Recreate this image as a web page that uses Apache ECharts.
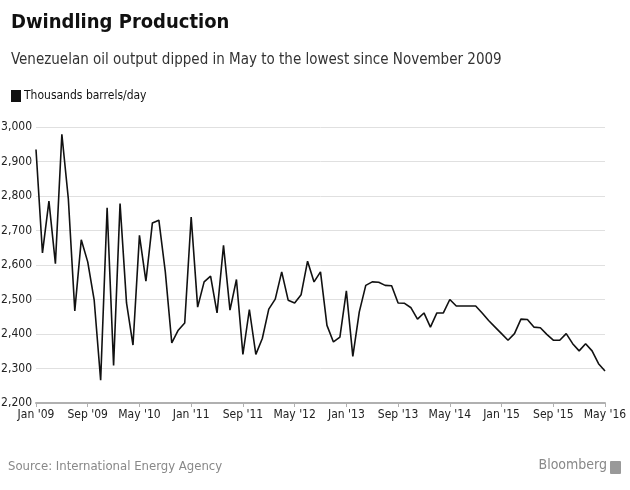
<!DOCTYPE html>
<html>
<head>
<meta charset="utf-8">
<script src="https://cdn.jsdelivr.net/npm/echarts@6/dist/echarts.min.js"></script>
<style>
html,body{margin:0;padding:0;background:#fff;}
#c{width:630px;height:490px;}
</style>
</head>
<body>
<div id="c"></div>
<script>
var monthNames = ['Jan','Feb','Mar','Apr','May','Jun','Jul','Aug','Sep','Oct','Nov','Dec'];
var startYear = 2009, monthCount = 89;
var categories = [];
for (var i = 0; i < monthCount; i++) {
  var y = startYear + Math.floor(i / 12);
  categories.push(monthNames[i % 12] + " '" + String(y).slice(2));
}
var output = [
  2935, 2635, 2785, 2604, 2979, 2792, 2467, 2673, 2609, 2498, 2266, 2766,
  2309, 2778, 2490, 2368, 2686, 2553, 2722, 2730, 2580, 2374, 2411, 2432,
  2739, 2478, 2551, 2568, 2461, 2657, 2469, 2558, 2341, 2471, 2341, 2387,
  2472, 2501, 2580, 2498, 2490, 2514, 2611, 2551, 2580, 2425, 2377, 2391,
  2525, 2335, 2464, 2541, 2551, 2550, 2541, 2540, 2490, 2489, 2476, 2443,
  2461, 2420, 2461, 2461, 2500, 2481, 2481, 2481, 2481, 2461, 2439, 2420,
  2401, 2382, 2401, 2443, 2442, 2420, 2418, 2399, 2382, 2382, 2401, 2372,
  2351, 2372, 2351, 2314, 2293
];
var yTicks = [2200, 2300, 2400, 2500, 2600, 2700, 2800, 2900, 3000];

var FONT = '"DejaVu Sans Condensed", "DejaVu Sans", sans-serif';
var chart = echarts.init(document.getElementById('c'), null, {renderer: 'canvas'});
chart.setOption({
  backgroundColor: '#ffffff',
  animation: false,
  title: [
    {text: 'Dwindling Production', left: 6, top: 8,
     textStyle: {fontFamily: FONT, fontWeight: 'bold', fontSize: 20, color: '#111'}},
    {text: 'Venezuelan oil output dipped in May to the lowest since November 2009', left: 6, top: 48,
     textStyle: {fontFamily: FONT, fontWeight: 'normal', fontSize: 15, color: '#333'}}
  ],
  legend: {
    left: 6, top: 85, itemWidth: 10, itemHeight: 12, itemGap: 4,
    icon: 'rect',
    data: ['Thousands barrels/day'],
    textStyle: {fontFamily: FONT, fontSize: 12, color: '#111', padding: [0,0,0,-2]}
  },
  grid: {left: 36, right: 25, top: 127, bottom: 87, containLabel: false, outerBoundsMode: 'none'},
  xAxis: {
    type: 'category',
    data: categories,
    boundaryGap: false,
    axisLine: {lineStyle: {color: '#b0b0b0', width: 2}},
    axisTick: {show: true, interval: 7, length: 4, lineStyle: {color: '#b0b0b0'}},
    axisLabel: {interval: 7, fontFamily: FONT, fontSize: 12, color: '#222', margin: 6, showMaxLabel: true},
    splitLine: {show: false}
  },
  yAxis: {
    type: 'value',
    min: yTicks[0], max: yTicks[yTicks.length - 1], interval: 100,
    axisLine: {show: false},
    axisTick: {show: false},
    axisLabel: {fontFamily: FONT, fontSize: 12, color: '#222', margin: 4,
      formatter: function (v) { return v.toLocaleString('en-US'); }},
    splitLine: {lineStyle: {color: '#e0e0e0', width: 1}}
  },
  series: [{
    name: 'Thousands barrels/day',
    type: 'line',
    data: output,
    symbol: 'none',
    lineStyle: {color: '#111', width: 1.6},
    itemStyle: {color: '#111'}
  }],
  graphic: [
    {type: 'text', left: 8, top: 460,
     style: {text: 'Source: International Energy Agency', fontFamily: FONT, fontSize: 13, fill: '#888'}},
    {type: 'text', right: 23, top: 458,
     style: {text: 'Bloomberg', fontFamily: FONT, fontSize: 14, fill: '#888'}},
    {type: 'rect', right: 9, top: 461, shape: {width: 11, height: 13, r: 1}, style: {fill: '#999'}}
  ]
});
</script>
</body>
</html>
